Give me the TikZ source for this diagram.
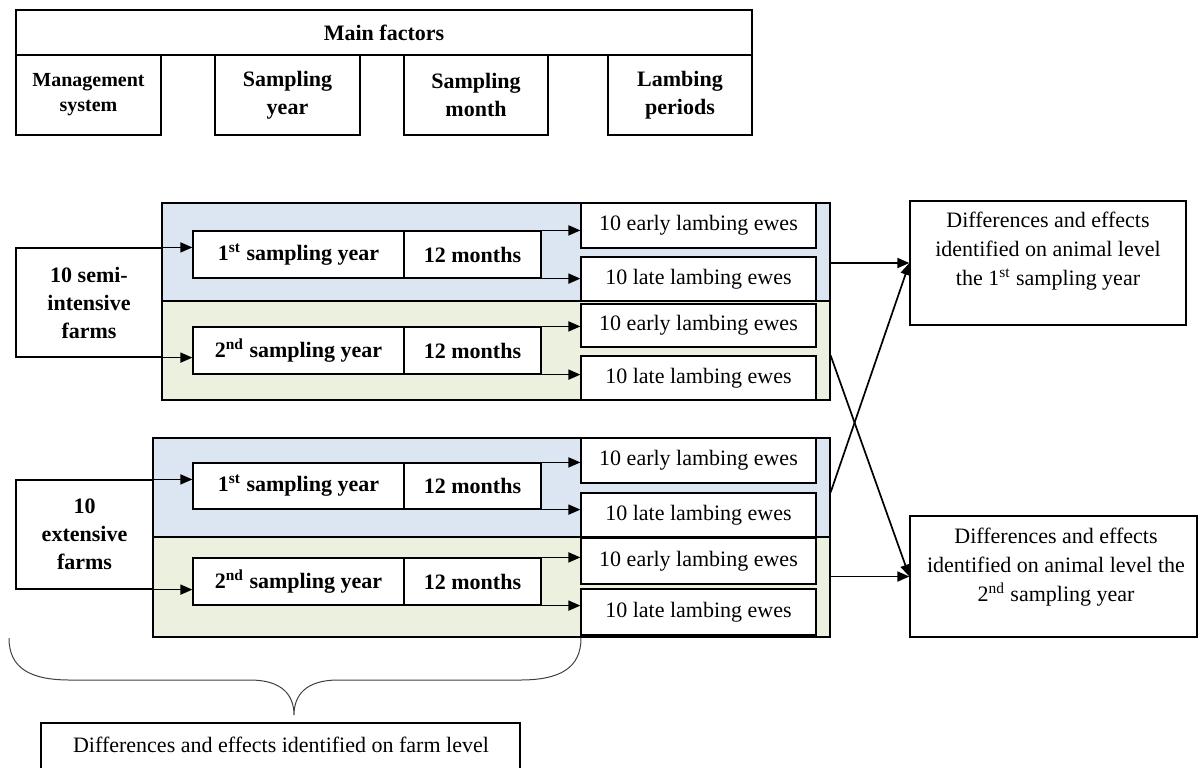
\documentclass[tikz,border=0pt]{standalone}
\usepackage{fontspec}
\setmainfont{Liberation Serif}
\usepackage{xcolor}
\usetikzlibrary{arrows.meta, fit}

\definecolor{bandblue}{HTML}{DCE6F2}
\definecolor{bandgreen}{HTML}{EBF1DE}

\tikzset{
    wh/.style 2 args={minimum width=#1*0.5pt, minimum height=#2*0.5pt},
    box/.style={draw, fill=white, inner sep=0pt, align=center, line width=0.6pt},
    bbox/.style={box, font=\fontsize{11}{14}\selectfont\bfseries},
    ewebox/.style={box, wh={235}{#1}, font=\fontsize{11}{14}\selectfont},
    blueband/.style={draw, fill=bandblue, inner sep=0pt, line width=0.6pt},
    greenband/.style={draw, fill=bandgreen, inner sep=0pt, line width=0.6pt},
    txt/.style={align=center, font=\fontsize{11}{14.5}\selectfont},
    arr/.style={-{Triangle[length=6pt,width=5pt]}, line width=0.85pt},
}

\begin{document}
\begin{tikzpicture}[x=0.5pt, y=-0.5pt]
    \useasboundingbox (0,0) rectangle (1198,767);
    \clip (0,0) rectangle (1198,767);

    % Header: main factors
    \node[bbox, wh={736}{45}] (main) at (384,32.5) {Main factors};
    \node[bbox, wh={145}{80}, font=\fontsize{10}{12.5}\selectfont\bfseries] (mgmt) at (88.5,95) {Management\\system};
    \node[bbox, wh={145}{80}] (year) at (287.5,95) {Sampling\\year};
    \node[bbox, wh={144}{80}] (month) at (476,95) {Sampling\\month};
    \node[bbox, wh={144}{80}] (lamb) at (680,95) {Lambing\\periods};

    % Group 1: semi-intensive farms
    \begin{scope}[shift={(0,203)}]
        \node[blueband, fit={(162,0) (830,98)}] (sBlue) {};
        \node[greenband, fit={(162,98) (830,197)}] (sGreen) {};
        \node[bbox, wh={146}{109}] (sFarm) at (89,99.5) {10 semi-\\intensive\\farms};

        \node[bbox, wh={211}{47}] (sY1) at (298.5,51.5) {1\textsuperscript{st} sampling year};
        \node[bbox, wh={137}{47}] (sM1) at (472.5,51.5) {12 months};
        \node[bbox, wh={211}{47}] (sY2) at (298.5,147.5) {2\textsuperscript{nd} sampling year};
        \node[bbox, wh={137}{47}] (sM2) at (472.5,147.5) {12 months};

        \node[ewebox={45}] (sE1) at (698.5,22.5) {10 early lambing ewes};
        \node[ewebox={44}] (sL1) at (698.5,76) {10 late lambing ewes};
        \node[ewebox={43}] (sE2) at (698.5,122.5) {10 early lambing ewes};
        \node[ewebox={44}] (sL2) at (698.5,175) {10 late lambing ewes};

        \draw[arr] (sFarm.north east) -- (sFarm.north east -| sY1.west);
        \draw[arr] (sFarm.south east) -- (sFarm.south east -| sY2.west);
        \draw[arr] (sM1.north east) -- (sM1.north east -| sE1.west);
        \draw[arr] (sM1.south east) -- (sM1.south east -| sL1.west);
        \draw[arr] (sM2.north east) -- (sM2.north east -| sE2.west);
        \draw[arr] (sM2.south east) -- (sM2.south east -| sL2.west);
    \end{scope}

    % Group 2: extensive farms
    \begin{scope}[shift={(0,438)}]
        \node[blueband, fit={(153,0) (830,99)}] (eBlue) {};
        \node[greenband, fit={(153,99) (830,199)}] (eGreen) {};
        \node[bbox, wh={137}{109}] (eFarm) at (84.5,96.5) {10\\extensive\\farms};

        \node[bbox, wh={211}{46}] (eY1) at (298.5,48) {1\textsuperscript{st} sampling year};
        \node[bbox, wh={137}{46}] (eM1) at (472.5,48) {12 months};
        \node[bbox, wh={211}{47}] (eY2) at (298.5,143.5) {2\textsuperscript{nd} sampling year};
        \node[bbox, wh={137}{47}] (eM2) at (472.5,143.5) {12 months};

        \node[ewebox={45}] (eE1) at (698.5,22.5) {10 early lambing ewes};
        \node[ewebox={44}] (eL1) at (698.5,77) {10 late lambing ewes};
        \node[ewebox={46}] (eE2) at (698.5,123) {10 early lambing ewes};
        \node[ewebox={46}] (eL2) at (698.5,174) {10 late lambing ewes};

        \draw[arr] (eFarm.north east) -- (eFarm.north east -| eY1.west);
        \draw[arr] (eFarm.south east) -- (eFarm.south east -| eY2.west);
        \draw[arr] (eM1.north east) -- (eM1.north east -| eE1.west);
        \draw[arr] (eM1.south east) -- (eM1.south east -| eL1.west);
        \draw[arr] (eM2.north east) -- (eM2.north east -| eE2.west);
        \draw[arr] (eM2.south east) -- (eM2.south east -| eL2.west);
    \end{scope}

    % Results on animal level
    \node[box, fit={(910,201) (1186,325)}] (resA) {};
    \node[txt] (resAtxt) at (1048,251) {Differences and effects\\identified on animal level\\the 1\textsuperscript{st} sampling year};
    \node[box, fit={(910,516) (1197,637)}] (resB) {};
    \node[txt] (resBtxt) at (1056,567) {Differences and effects\\identified on animal level the\\2\textsuperscript{nd} sampling year};

    \draw[arr] (sBlue.east |- resA.west) -- (resA.west);
    \draw[arr] (eGreen.east |- resB.west) -- (resB.west);
    \draw[arr] (sL2.north -| sGreen.east) -- (resB.west);
    \draw[arr] (eL1.north -| eBlue.east) -- (resA.west);

    % Brace and farm level result
    \draw[line width=0.5pt, black!75] (9,638) .. controls (9,668) and (30,680) .. (70,680) -- (250,680)
        .. controls (282,680) and (294,695) .. (294,715)
        .. controls (294,695) and (306,680) .. (338,680) -- (520,680)
        .. controls (560,680) and (581,668) .. (581,638);
    \node[box, fit={(41,723) (520,790)}] (farm) {};
    \node[txt] (farmtxt) at (281,745) {Differences and effects identified on farm level};
\end{tikzpicture}
\end{document}
